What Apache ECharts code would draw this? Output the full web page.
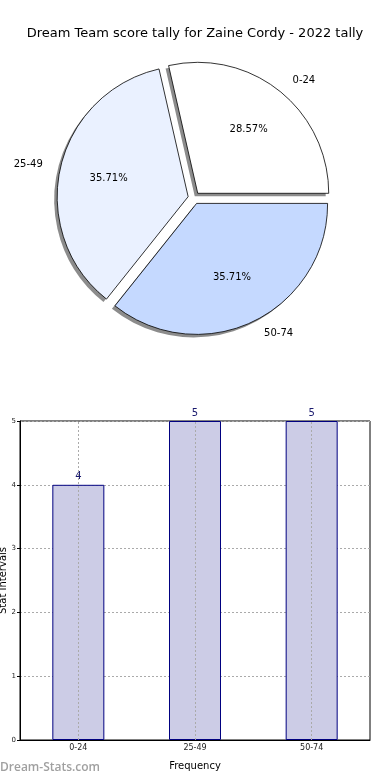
<!DOCTYPE html>
<html><head><meta charset="utf-8">
<script src="https://cdn.jsdelivr.net/npm/echarts@6/dist/echarts.min.js"></script>
<style>html,body{margin:0;padding:0;background:#fff}#c{width:390px;height:780px}</style>
</head><body><div id="c"></div>
<script>
const titleText = "Dream Team score tally for Zaine Cordy - 2022 tally";
const categories = ["0-24", "25-49", "50-74"];
const values = [4, 5, 5];
const sliceColors = ["#ffffff", "#eaf1ff", "#c5d9ff"];
const yTicks = [0, 1, 2, 3, 4, 5];
const total = values.reduce((a, b) => a + b, 0);

const chart = echarts.init(document.getElementById('c'), null, {renderer: 'canvas'});
const R = 131;
const C = [194, 198];
const pieBase = {
  type: 'pie', radius: R, startAngle: 0, clockwise: false,
  selectedMode: 'multiple', selectedOffset: 6, avoidLabelOverlap: false, silent: true
};
const font = 'DejaVu Sans';
chart.setOption({
  animation: false,
  title: {text: titleText, left: 'center', top: 22, textStyle: {fontFamily: font, fontSize: 13, fontWeight: 'normal', color: '#000'}},
  graphic: [{type: 'text', left: 0, top: 762, style: {text: 'Dream-Stats.com', fontFamily: 'Open Sans', fontSize: 12, fontWeight: 600, fill: '#a0a0a0'}}],
  grid: {left: 20, right: 20, top: 421, bottom: 40, show: true, borderColor: '#000', borderWidth: 1, containLabel: false, outerBoundsMode: 'none'},
  xAxis: {
    type: 'category', data: categories,
    name: 'Frequency', nameLocation: 'middle', nameGap: 21,
    nameTextStyle: {fontFamily: font, fontSize: 10, color: '#000'},
    axisLine: {show: true, lineStyle: {color: '#000'}},
    axisTick: {show: false},
    axisLabel: {fontFamily: font, fontSize: 8, color: '#222', margin: 4},
    splitLine: {show: false}
  },
  yAxis: {
    type: 'value', min: 0, max: 5, interval: 1,
    name: 'Stat Intervals', nameLocation: 'middle', nameGap: 12, nameMoveOverlap: false,
    nameTextStyle: {fontFamily: font, fontSize: 10, color: '#000'},
    axisLine: {show: true, lineStyle: {color: '#000'}},
    axisTick: {show: true, length: 3, lineStyle: {color: '#000'}},
    axisLabel: {fontFamily: font, fontSize: 7, color: '#222', margin: 4},
    splitLine: {show: true, lineStyle: {color: '#aaa', type: [2, 2]}}
  },
  series: [
    Object.assign({}, pieBase, {
      center: [C[0] - 3, C[1] + 3], z: 1,
      data: categories.map((c, i) => ({name: c, value: values[i], selected: true})),
      itemStyle: {color: '#8c8c8c', borderWidth: 0},
      select: {itemStyle: {color: '#8c8c8c', borderWidth: 0}},
      label: {show: false}, labelLine: {show: false}
    }),
    Object.assign({}, pieBase, {
      center: C, z: 2,
      data: categories.map((c, i) => ({name: c, value: values[i], selected: true, itemStyle: {color: sliceColors[i]}})),
      itemStyle: {borderColor: '#000', borderWidth: 0.8},
      select: {itemStyle: {borderColor: '#000', borderWidth: 0.8}},
      label: {show: true, position: 'outside', formatter: '{b}', fontFamily: font, fontSize: 10, color: '#000'},
      labelLine: {show: false, length: 13, length2: 0}
    }),
    Object.assign({}, pieBase, {
      center: C, radius: R * 1.2, z: 3,
      data: categories.map((c, i) => ({name: c, value: values[i], selected: true})),
      itemStyle: {color: 'rgba(0,0,0,0)', borderWidth: 0},
      select: {itemStyle: {color: 'rgba(0,0,0,0)', borderWidth: 0}},
      label: {show: true, position: 'inside', fontFamily: font, fontSize: 10, color: '#000',
        formatter: p => (p.value / total * 100).toFixed(2) + '%'},
      labelLine: {show: false}
    }),
    {
      type: 'bar', data: values, barWidth: 52,
      itemStyle: {color: '#ccccE6', borderColor: '#000080', borderWidth: 1},
      label: {show: true, position: 'top', distance: 3, fontFamily: font, fontSize: 10, color: '#1a1a6e'},
      markLine: {
        silent: true, symbol: 'none', label: {show: false},
        lineStyle: {color: '#aaa', type: [2, 2], width: 1},
        data: categories.map(c => ({xAxis: c}))
      }
    }
  ]
});
</script></body></html>
